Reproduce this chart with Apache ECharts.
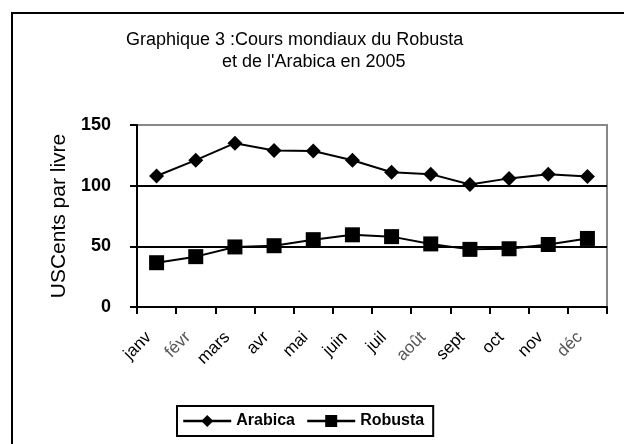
<!DOCTYPE html>
<html>
<head>
<meta charset="utf-8">
<script src="https://cdn.jsdelivr.net/npm/echarts@6/dist/echarts.min.js"></script>
<style>
  html, body { margin: 0; padding: 0; background: #fff; }
  #chart { width: 624px; height: 444px; }
</style>
</head>
<body>
<div id="chart"></div>
<script>
// mois et cours (USCents par livre)
var months = ['janv', 'févr', 'mars', 'avr', 'mai', 'juin', 'juil', 'août', 'sept', 'oct', 'nov', 'déc'];
var arabica = [108, 121, 135, 129, 128.5, 121, 111, 109.5, 101, 106, 109.5, 107.5];
var robusta = [36.5, 41.5, 49.5, 50.5, 55.5, 59.5, 58, 52, 47.5, 48, 51.5, 56.5];
var yTicks = [0, 50, 100, 150];

var font = 'Liberation Sans, Arial, sans-serif';
// les libellés accentués sortent plus gris dans l'original
var greyMonths = ['févr', 'août', 'déc'];

var chart = echarts.init(document.getElementById('chart'));
chart.setOption({
    animation: false,
    title: [{
        text: 'Graphique 3 :Cours mondiaux du Robusta',
        left: 121, top: 26,
        textStyle: { fontFamily: font, fontSize: 18, fontWeight: 'normal', color: '#000' }
    }, {
        text: "et de l'Arabica en 2005",
        left: 217, top: 48,
        textStyle: { fontFamily: font, fontSize: 18, fontWeight: 'normal', color: '#000' }
    }],
    graphic: [{
        type: 'rect',
        shape: { x: 12, y: 13, width: 700, height: 500 },
        style: { fill: 'none', stroke: '#000', lineWidth: 2 },
        silent: true
    }],
    legend: {
        left: 177, top: 406,
        padding: [7, 9, 7, 5],
        borderColor: '#000', borderWidth: 2,
        itemWidth: 48, itemHeight: 15, itemGap: 11,
        lineStyle: { width: 2.5 },
        textStyle: { fontFamily: font, fontSize: 16, fontWeight: 'bold', color: '#000' },
        data: ['Arabica', 'Robusta']
    },
    grid: {
        left: 137, right: 17, top: 125, bottom: 137,
        show: true, borderColor: '#888', borderWidth: 2, backgroundColor: '#fff'
    },
    xAxis: {
        type: 'category',
        data: months.map(function (m) {
            return greyMonths.indexOf(m) >= 0 ? { value: m, textStyle: { color: '#555' } } : m;
        }),
        boundaryGap: true,
        axisLine: { lineStyle: { color: '#000', width: 2 } },
        axisTick: { show: true, length: 7, lineStyle: { color: '#000', width: 2 } },
        axisLabel: {
            rotate: 45, margin: 20, interval: 0, padding: [0, 11, 0, 0],
            fontFamily: font, fontSize: 17, color: '#000'
        }
    },
    yAxis: {
        type: 'value',
        min: yTicks[0], max: yTicks[yTicks.length - 1], interval: 50,
        name: 'USCents par livre',
        nameLocation: 'middle',
        nameGap: 64,
        nameTextStyle: { fontFamily: font, fontSize: 21, color: '#000' },
        axisLine: { show: true, lineStyle: { color: '#000', width: 2 } },
        axisTick: { show: true, length: 7, lineStyle: { color: '#000', width: 2 } },
        axisLabel: { margin: 26, fontFamily: font, fontSize: 18, fontWeight: 'bold', color: '#000' },
        splitLine: { show: true, showMaxLine: false, lineStyle: { color: '#000', width: 2 } }
    },
    series: [{
        name: 'Arabica',
        type: 'line',
        data: arabica,
        symbol: 'diamond',
        symbolSize: 15,
        itemStyle: { color: '#000' },
        lineStyle: { color: '#000', width: 2 }
    }, {
        name: 'Robusta',
        type: 'line',
        data: robusta,
        symbol: 'rect',
        symbolSize: 15,
        itemStyle: { color: '#000' },
        lineStyle: { color: '#000', width: 2 }
    }]
});
</script>
</body>
</html>
